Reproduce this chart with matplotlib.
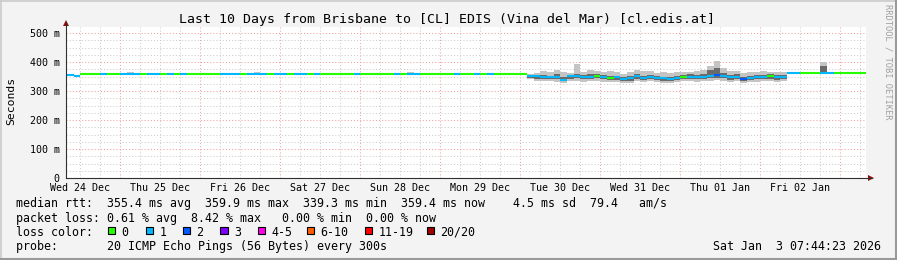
import matplotlib
matplotlib.use('Agg')
import matplotlib.pyplot as plt
import numpy as np
from matplotlib.collections import LineCollection
from matplotlib.patches import Rectangle, Polygon
from matplotlib.lines import Line2D

# ---------------- data ----------------
# time axis: hours since Wed 24 Dec 00:00; 2-hour bins starting 08:00
first_bin_hour = 8
bin_hours = 2
x_start_h = 7.74      # Wed 24 Dec 07:44
x_end_h = 247.74      # Sat 03 Jan 07:44

median_ms = [
    356, 353, 358, 358, 358, 358, 358, 358, 358, 358,
    358, 358, 358, 358, 358, 358, 358, 358, 358, 358,
    358, 358, 358, 358, 358, 358, 358, 358, 358, 358,
    358, 358, 358, 358, 358, 358, 358, 358, 358, 358,
    358, 358, 358, 358, 358, 358, 358, 358, 358, 358,
    358, 358, 358, 358, 358, 358, 358, 358, 358, 358,
    358, 358, 358, 358, 358, 358, 358, 358, 358, 352,
    351, 348, 347, 349, 339, 351, 352, 347, 348, 353,
    349, 346, 347, 342, 344, 352, 346, 349, 345, 344,
    342, 345, 349, 350, 348, 349, 352, 355, 353, 347,
    350, 343, 346, 348, 349, 351, 348, 350, 361, 361,
    361, 361, 361, 361, 361, 361, 361, 361, 361, 361,
]

loss = [
    1, 1, 0, 0, 0, 1, 0, 0, 1, 1,
    1, 0, 1, 1, 0, 1, 0, 1, 0, 0,
    0, 0, 0, 1, 1, 1, 0, 1, 1, 1,
    0, 1, 1, 0, 1, 1, 0, 1, 0, 0,
    0, 0, 0, 1, 0, 0, 0, 0, 0, 1,
    0, 1, 1, 0, 0, 0, 0, 0, 1, 0,
    0, 1, 0, 1, 0, 0, 0, 0, 0, 1,
    1, 1, 1, 1, 1, 1, 1, 1, 1, 0,
    1, 0, 1, 1, 1, 1, 1, 1, 1, 1,
    1, 1, 0, 1, 1, 1, 1, 2, 1, 1,
    1, 2, 1, 1, 1, 0, 1, 1, 1, 1,
    0, 0, 0, 1, 1, 0, 0, 0, 0, 0,
]

# smoke (ping spread) for the unstable period, bins 69..107
busy_first_bin = 69
busy_min = [340, 334, 336, 333, 332, 328, 335, 336, 332, 333,
            336, 332, 330, 331, 327, 329, 334, 331, 333, 330,
            328, 327, 330, 334, 335, 332, 333, 336, 338, 336,
            331, 334, 327, 330, 332, 333, 335, 331, 333]
busy_q1 = [345, 342, 341, 340, 340, 334, 343, 344, 340, 341,
           344, 340, 338, 339, 334, 336, 342, 339, 341, 337,
           336, 335, 338, 341, 342, 340, 341, 344, 346, 344,
           339, 342, 335, 338, 340, 341, 343, 339, 341]
busy_q3 = [356, 355, 354, 352, 358, 350, 356, 360, 354, 358,
           357, 355, 352, 353, 350, 352, 357, 352, 355, 351,
           350, 349, 352, 356, 357, 355, 358, 372, 380, 362,
           354, 357, 350, 353, 355, 356, 357, 354, 356]
busy_max = [360, 362, 370, 364, 372, 366, 362, 392, 366, 372,
            368, 365, 370, 366, 360, 364, 372, 370, 368, 362,
            364, 361, 365, 366, 364, 368, 372, 386, 404, 378,
            368, 368, 362, 367, 366, 368, 365, 366, 364]

# isolated smoke bumps in the stable periods
bump_bins = [7, 9, 15, 24, 28, 37, 51, 52, 113, 117]
bump_top = [361, 366, 363, 362, 365, 361, 364, 362, 400, 362]
bump_core = [358, 362, 358, 358, 361, 358, 361, 358, 386, 361]

day_labels = ["Wed 24 Dec", "Thu 25 Dec", "Fri 26 Dec", "Sat 27 Dec", "Sun 28 Dec",
              "Mon 29 Dec", "Tue 30 Dec", "Wed 31 Dec", "Thu 01 Jan", "Fri 02 Jan"]
y_ticks = [0, 100, 200, 300, 400, 500]
y_tick_labels = ["0", "100 m", "200 m", "300 m", "400 m", "500 m"]

loss_colors = ['#26ff00', '#00b8ff', '#0059ff', '#7e00ff', '#ff00ea', '#ff5e00', '#ff0000', '#a10000']
loss_names = ['0', '1', '2', '3', '4-5', '6-10', '11-19', '20/20']

title = "Last 10 Days from Brisbane to [CL] EDIS (Vina del Mar) [cl.edis.at]"
legend_rows = [
    "median rtt:  355.4 ms avg  359.9 ms max  339.3 ms min  359.4 ms now    4.5 ms sd  79.4   am/s",
    "packet loss: 0.61 % avg  8.42 % max   0.00 % min  0.00 % now",
    "loss color:",
    "probe:       20 ICMP Echo Pings (56 Bytes) every 300s",
]
stamp = "Sat Jan  3 07:44:23 2026"

# ---------------- figure ----------------
W, H = 897, 260
MONO = 'DejaVu Sans Mono'
LEG_FS = 8.35
fig = plt.figure(figsize=(W / 100, H / 100), dpi=100, facecolor='#f3f3f3')


def fx(x):
    return x / W


def fy(y):
    return 1 - y / H


ax = fig.add_axes([fx(66), fy(178), 800 / W, (178 - 27) / H])
ax.set_facecolor('white')
ymax = (178 - 27) / 0.29
ax.set_xlim(x_start_h, x_end_h)
ax.set_ylim(0, ymax)
for s in ax.spines.values():
    s.set_visible(False)

# grid
dot = (0, (1, 2))
for h in range(0, 252, 6):
    if h < x_start_h or h > x_end_h:
        continue
    if h % 24 == 0:
        ax.axvline(h, color='#f4a0a0', lw=0.75, ls=dot, zorder=1)
    else:
        ax.axvline(h, color='#cccccc', lw=0.75, ls=dot, zorder=1)
for v in range(25, 525, 25):
    if v > ymax:
        continue
    if v % 100 == 0:
        ax.axhline(v, color='#f4a0a0', lw=0.75, ls=dot, zorder=1)
    else:
        ax.axhline(v, color='#cccccc', lw=0.75, ls=dot, zorder=1)

n = len(median_ms)
edges = first_bin_hour + bin_hours * np.arange(n + 1)
med = np.array(median_ms, dtype=float)

smin = med.copy()
sq1 = med.copy()
sq3 = med.copy()
smax = med.copy()
bsl = slice(busy_first_bin, busy_first_bin + len(busy_min))
smin[bsl] = busy_min
sq1[bsl] = busy_q1
sq3[bsl] = busy_q3
smax[bsl] = busy_max
for b, top, core in zip(bump_bins, bump_top, bump_core):
    smax[b] = top
    sq3[b] = core


def step_xy(vals):
    xs = np.repeat(edges, 2)[1:-1]
    ys = np.repeat(vals, 2)
    return xs, ys


xs, lo = step_xy(smin)
_, hi = step_xy(smax)
ax.fill_between(xs, lo, hi, color='#c4c4c4', lw=0, zorder=2)
_, lo = step_xy(sq1)
_, hi = step_xy(sq3)
ax.fill_between(xs, lo, hi, color='#6a6a6a', lw=0, zorder=3)

segs = [[(edges[i], med[i]), (edges[i + 1], med[i])] for i in range(n)]
cols = [loss_colors[l] for l in loss]
lc = LineCollection(segs, colors=cols, linewidths=1.5, zorder=4, capstyle='butt')
ax.add_collection(lc)

# ticks
ax.set_yticks(y_ticks)
ax.set_yticklabels(y_tick_labels, family=MONO, fontsize=7.2)
ax.set_xticks([12 + 24 * k for k in range(len(day_labels))])
ax.set_xticklabels(day_labels, family=MONO, fontsize=7.2)
ax.tick_params(axis='y', length=0, pad=4.5)
ax.tick_params(axis='x', length=0, pad=3.3)

# axes lines with arrows
fig.add_artist(Line2D([fx(66), fx(872)], [fy(178), fy(178)], color='#303030', lw=0.8))
fig.add_artist(Line2D([fx(66), fx(66)], [fy(178), fy(23)], color='#303030', lw=0.8))
fig.add_artist(Polygon([(fx(868), fy(175)), (fx(874), fy(178)), (fx(868), fy(181))],
                       closed=True, color='#8b1010', lw=0))
fig.add_artist(Polygon([(fx(63), fy(26)), (fx(69), fy(26)), (fx(66), fy(20))],
                       closed=True, color='#8b1010', lw=0))

# texts
fig.text(fx(446.5), fy(19), title, family=MONO, fontsize=9.5, ha='center', va='center')
fig.text(fx(11), fy(101), "Seconds", family=MONO, fontsize=8.2, rotation=90, ha='center', va='center')
fig.text(fx(888), fy(4), "RRDTOOL / TOBI OETIKER", family=MONO, fontsize=6.3, rotation=270,
         ha='center', va='top', color='#a0a0a0')

row_y = [204, 218.3, 232.3, 246.7]
for txt, yy in zip(legend_rows, row_y):
    fig.text(fx(16), fy(yy), txt, family=MONO, fontsize=LEG_FS, ha='left', va='center')
fig.text(fx(881), fy(row_y[3]), stamp, family=MONO, fontsize=LEG_FS, ha='right', va='center')

box_x = [108, 145.7, 183, 220.3, 257.7, 307, 365, 426.5]
for bx, c, name in zip(box_x, loss_colors, loss_names):
    fig.add_artist(Rectangle((fx(bx), fy(234)), 7.3 / W, 7.3 / H, facecolor=c,
                             edgecolor='black', lw=0.8))
    fig.text(fx(bx + 13.5), fy(row_y[2]), name, family=MONO, fontsize=LEG_FS, ha='left', va='center')

# frame shading
fig.add_artist(Line2D([0, 1], [fy(0.5), fy(0.5)], color='#cbcbcb', lw=1.2))
fig.add_artist(Line2D([fx(0.5), fx(0.5)], [0, 1], color='#cbcbcb', lw=1.2))
fig.add_artist(Line2D([0, 1], [fy(259), fy(259)], color='#999999', lw=1.5))
fig.add_artist(Line2D([fx(896), fx(896)], [0, 1], color='#999999', lw=1.5))

fig.savefig('out.png', dpi=100, facecolor=fig.get_facecolor())
